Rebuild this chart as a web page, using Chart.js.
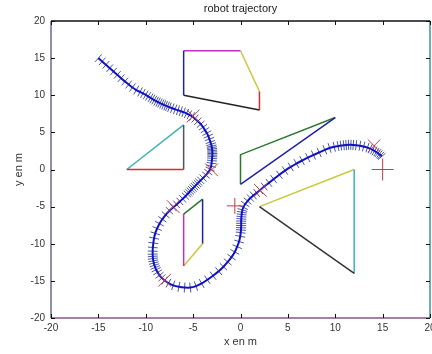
<!DOCTYPE html>
<html><head><meta charset="utf-8">
<script src="https://cdn.jsdelivr.net/npm/chart.js@4"></script>
<style>html,body{margin:0;padding:0;background:#fff}canvas{display:block}</style>
</head><body>
<canvas id="c" width="432" height="354"></canvas>
<script>
// ---- data ----
const xTickValues = [-20,-15,-10,-5,0,5,10,15,20];
const yTickValues = [-20,-15,-10,-5,0,5,10,15,20];

const pathA = [[-15,15],[-14.6,14.55],[-14.2,14.1],[-13.8,13.65],[-13.4,13.2],[-13,12.75],[-12.6,12.3],[-12.2,11.85],[-11.8,11.45],[-11.4,11.05],[-11,10.7],[-10.6,10.45],[-10.3,10.25],[-10,10.05],[-9.75,9.85],[-9.5,9.65],[-9.3,9.5],[-9.1,9.35],[-8.9,9.2],[-8.7,9.08],[-8.5,8.95],[-8.3,8.82],[-8.1,8.7],[-7.9,8.6],[-7.7,8.5],[-7.5,8.38],[-7.2,8.25],[-6.9,8.1],[-6.6,7.98],[-6.3,7.85],[-6,7.72],[-5.7,7.55],[-5.4,7.35],[-5.1,7.15]];
const pathB = [[-4.8,6.85],[-4.5,6.5],[-4.2,6.1],[-3.95,5.7],[-3.75,5.3],[-3.55,4.9],[-3.4,4.5],[-3.28,4.1],[-3.18,3.7],[-3.1,3.4],[-3.05,3.15],[-3.02,2.95],[-3,2.75],[-2.98,2.55],[-2.97,2.35],[-2.97,2.15],[-2.97,1.95],[-2.98,1.75],[-3,1.5],[-3.02,1.2],[-3.05,0.85],[-3.1,0.45],[-3.2,0.05],[-3.4,-0.35],[-3.65,-0.75],[-3.95,-1.15],[-4.2,-1.45],[-4.4,-1.7],[-4.55,-1.9],[-4.7,-2.1],[-4.85,-2.3],[-5,-2.5],[-5.15,-2.7],[-5.3,-2.9],[-5.45,-3.1],[-5.6,-3.3],[-5.8,-3.6],[-6.1,-3.95],[-6.4,-4.3],[-6.75,-4.7],[-7.1,-5.1]];
const pathC = [[-7.5,-5.55],[-7.9,-6.1],[-8.25,-6.7],[-8.55,-7.3],[-8.8,-7.95],[-9,-8.6],[-9.12,-9.25],[-9.2,-9.9],[-9.25,-10.5],[-9.27,-11],[-9.27,-11.4],[-9.26,-11.7],[-9.24,-12],[-9.2,-12.3],[-9.15,-12.6],[-9.08,-12.9],[-9,-13.2],[-8.9,-13.5],[-8.75,-13.85],[-8.55,-14.25],[-8.3,-14.6],[-8,-14.95],[-7.6,-15.3],[-7.1,-15.6],[-6.5,-15.8],[-5.9,-15.9],[-5.3,-15.9],[-4.7,-15.7],[-4.1,-15.35],[-3.5,-14.85],[-2.9,-14.3],[-2.3,-13.7],[-1.8,-13.1],[-1.35,-12.45],[-0.95,-11.8],[-0.6,-11.1],[-0.35,-10.4],[-0.15,-9.7],[-0.03,-9],[0.02,-8.5],[0.05,-8.15],[0.06,-7.85],[0.07,-7.55],[0.07,-7.25],[0.07,-6.95],[0.08,-6.65],[0.1,-6.35],[0.12,-6.05],[0.15,-5.75],[0.2,-5.45],[0.3,-5.1],[0.5,-4.65],[0.75,-4.25],[1.05,-3.85],[1.35,-3.5],[1.7,-3.15],[2.05,-2.8]];
const pathD = [[2.5,-2.3],[3,-1.8],[3.5,-1.3],[4.1,-0.7],[4.7,-0.15],[5.3,0.35],[5.9,0.8],[6.5,1.2],[7.1,1.6],[7.7,1.95],[8.3,2.3],[8.9,2.65],[9.4,2.9],[9.9,3.05],[10.3,3.15],[10.6,3.22],[10.9,3.27],[11.15,3.3],[11.4,3.32],[11.65,3.32],[11.9,3.3],[12.2,3.27],[12.6,3.2],[13,3.1],[13.4,2.95],[13.7,2.8],[13.95,2.65],[14.15,2.5],[14.35,2.35],[14.5,2.2],[14.65,2.05],[14.8,1.9],[14.9,1.75]];

const waypointsX = [[-5,7.2],[-3.05,-0.05],[-7.1,-5],[-8,-14.9],[2.1,-2.8],[14.1,3.2]];
const waypointsPlus = [[15,0],[-0.6,-4.9]];

const wall = [[-20,20],[20,20],[20,-20],[-20,-20],[-20,20]];
const wallColors = ['#111111','#4e9a9a','#8c5489','#7b6f93'];
const poly1 = [[-6,16],[0,16],[2,10.5],[2,8],[-6,10],[-6,16]];
const poly1Colors = ['#c030c0','#c8c83c','#e02828','#222222','#2020a8'];
const poly2 = [[-12,0],[-6,6],[-6,0],[-12,0]];
const poly2Colors = ['#3cb4b4','#555555','#e02828'];
const poly3 = [[0,-2],[0,2],[10,7],[0,-2]];
const poly3Colors = ['#2a7a2a','#2a7a2a','#2020a8'];
const poly4 = [[2,-5],[12,0],[12,-14],[2,-5]];
const poly4Colors = ['#c8c83c','#3cb4b4','#333333'];
const poly5 = [[-6,-6],[-4,-4],[-4,-10],[-6,-13],[-6,-6]];
const poly5Colors = ['#2a7a2a','#2020a8','#c8c83c','#c030c0'];

// ---- build chart ----
const toPts = a => a.map(p => ({x:p[0], y:p[1]}));
const traj = toPts([].concat(pathA, pathB, pathC, pathD));

function polyDataset(pts, colors, extra) {
  return Object.assign({
    type:'line', data: toPts(pts), showLine:true, pointRadius:0, borderWidth:1.5,
    borderColor: colors[0], segment:{borderColor: c => colors[c.p0DataIndex]},
    tension:0, order:5
  }, extra || {});
}

const tickRotation = (ctx) => {
  if (ctx.dataIndex === undefined) return 0;
  const d = ctx.dataset.data, i = ctx.dataIndex;
  const a = d[Math.max(i-1,0)], b = d[Math.min(i+1,d.length-1)];
  const xs = ctx.chart.scales.x, ys = ctx.chart.scales.y;
  const ang = Math.atan2(ys.getPixelForValue(b.y)-ys.getPixelForValue(a.y), xs.getPixelForValue(b.x)-xs.getPixelForValue(a.x));
  return ang*180/Math.PI + 90;
};

const innerTicks = {
  id:'innerTicks',
  afterDraw(chart) {
    const {ctx, chartArea:ca, scales:{x, y}} = chart;
    ctx.save();
    ctx.strokeStyle = '#111'; ctx.lineWidth = 1;
    ctx.beginPath();
    xTickValues.forEach(v => {
      const px = Math.round(x.getPixelForValue(v)) + 0.5;
      ctx.moveTo(px, ca.bottom); ctx.lineTo(px, ca.bottom - 4);
      ctx.moveTo(px, ca.top); ctx.lineTo(px, ca.top + 4);
    });
    yTickValues.forEach(v => {
      const py = Math.round(y.getPixelForValue(v)) + 0.5;
      ctx.moveTo(ca.left, py); ctx.lineTo(ca.left + 4, py);
      ctx.moveTo(ca.right, py); ctx.lineTo(ca.right - 4, py);
    });
    ctx.stroke();
    ctx.restore();
  }
};

const font = {family:'"Liberation Sans", Arial, sans-serif', size:10};
const titleFont = {family:'"Liberation Sans", Arial, sans-serif', size:11, weight:'normal'};

new Chart(document.getElementById('c'), {
  type:'scatter',
  data:{ datasets:[
    {type:'line', data: traj, borderColor:'#1010c8', borderWidth:2, pointRadius:0, tension:0.3, order:1},
    {type:'scatter', data: traj, pointStyle:'line', pointRadius:5, pointBorderColor:'#4a58a0', pointBorderWidth:1, rotation: tickRotation, order:2},
    {type:'scatter', data: toPts(waypointsX), pointStyle:'crossRot', pointRadius:9, pointBorderColor:'#c83c4c', pointBorderWidth:1, order:0},
    {type:'scatter', data: toPts(waypointsPlus), pointStyle:'cross', pointRadius:[11,8], pointBorderColor:'#c83c4c', pointBorderWidth:1, order:0},
    polyDataset(wall, wallColors, {clip:false, borderWidth:1.6}),
    polyDataset(poly1, poly1Colors),
    polyDataset(poly2, poly2Colors),
    polyDataset(poly3, poly3Colors),
    polyDataset(poly4, poly4Colors),
    polyDataset(poly5, poly5Colors)
  ]},
  options:{
    responsive:false, animation:false, events:[],
    layout:{autoPadding:false, padding:{left:0,right:2,top:0,bottom:0}},
    plugins:{
      legend:{display:false}, tooltip:{enabled:false},
      title:{display:true, text:'robot trajectory', fullSize:false, color:'#222', font:titleFont, padding:{top:2,bottom:5.8}}
    },
    scales:{
      x:{type:'linear', min:-20, max:20, afterBuildTicks: s => { s.ticks = xTickValues.map(v => ({value:v})); },
         grid:{display:false, drawTicks:false}, border:{display:false},
         ticks:{color:'#333', font, padding:4, maxRotation:0, autoSkip:false},
         title:{display:true, text:'x en m', color:'#333', font:titleFont, padding:{top:0,bottom:5}},
         afterFit: s => { s.height = 36; s.paddingLeft = 0; s.paddingRight = 0; }},
      y:{type:'linear', min:-20, max:20, afterBuildTicks: s => { s.ticks = yTickValues.map(v => ({value:v})); },
         grid:{display:false, drawTicks:false}, border:{display:false},
         ticks:{color:'#333', font, padding:6, autoSkip:false},
         title:{display:true, text:'y en m', color:'#333', font:titleFont, padding:{top:12,bottom:0}},
         afterFit: s => { s.width = 51; s.paddingTop = 0; s.paddingBottom = 0; }}
    }
  },
  plugins:[innerTicks]
});
</script>
</body></html>
